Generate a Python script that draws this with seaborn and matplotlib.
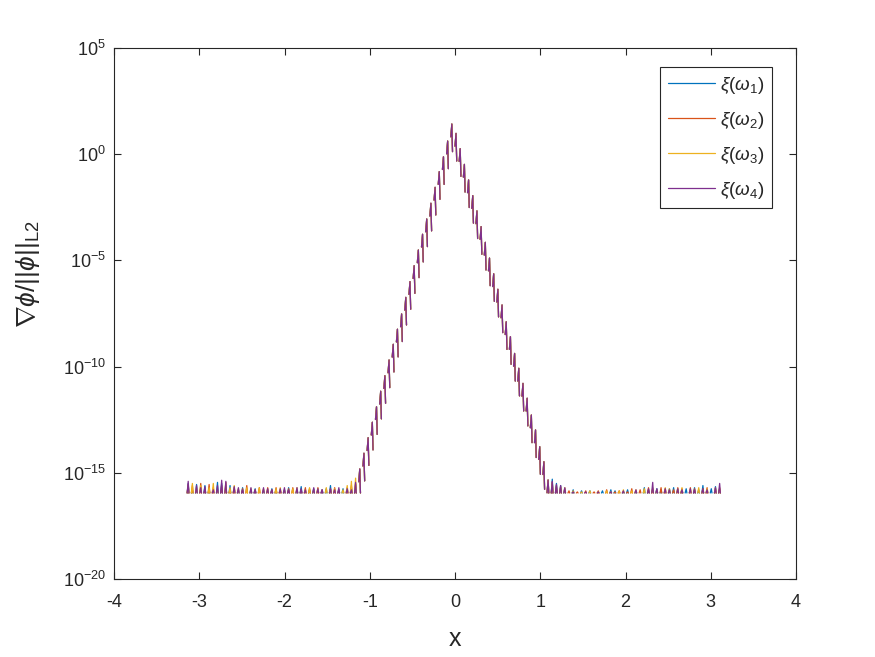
import numpy as np
import pandas as pd
import matplotlib
matplotlib.use("Agg")
import matplotlib.pyplot as plt
from matplotlib.lines import Line2D
from matplotlib.ticker import NullLocator
import seaborn as sns

# ---------------- data (log10 of the plotted quantity) ----------------
series_names = ["xi1", "xi2", "xi3", "xi4"]
series_labels = [r"$\xi(\omega_1)$", r"$\xi(\omega_2)$", r"$\xi(\omega_3)$", r"$\xi(\omega_4)$"]
series_colors = ["#0072BD", "#D95319", "#EDB120", "#7E2F8E"]

n_grid = 128                      # grid on [-pi, pi)
floor_log = -15.95                # machine-precision floor

# central peak: spike tops, going outwards from x = 0
peak_left_tops = [1.42, 0.62, -0.12, -0.82, -1.56, -2.31, -3.05, -3.77, -4.51, -5.25, -6.00, -6.74,
                  -7.52, -8.24, -8.95, -9.69, -10.43, -11.16, -11.89, -12.62, -13.35, -14.08, -14.82]
peak_right_tops = [0.98, 0.26, -0.48, -1.21, -1.95, -2.67, -3.41, -4.15, -4.89, -5.63, -6.36, -7.10,
                   -7.89, -8.59, -9.38, -10.08, -10.79, -11.49, -12.28, -12.98, -13.77, -14.48, -15.34]
peak_first_index = 41

# round-off noise, left part (grid indices 0..40)
noise_left = [
    [-15.5, -15.8, -15.55, -15.95, -15.6, -15.8, -15.95, -15.45, -15.5, -15.75, -15.6, -15.95, -15.8, -15.7,
     -15.95, -15.8, -15.75, -15.95, -15.8, -15.95, -15.75, -15.8, -15.95, -15.8, -15.7, -15.95, -15.8, -15.65,
     -15.95, -15.8, -15.75, -15.95, -15.8, -15.75, -15.6, -15.95, -15.8, -15.75, -15.95, -15.7, -15.55],
    [-15.55, -15.6, -15.95, -15.5, -15.8, -15.55, -15.7, -15.95, -15.6, -15.45, -15.8, -15.7, -15.95, -15.75,
     -15.6, -15.95, -15.8, -15.7, -15.95, -15.7, -15.8, -15.7, -15.8, -15.95, -15.75, -15.7, -15.95, -15.8,
     -15.7, -15.75, -15.95, -15.7, -15.8, -15.95, -15.75, -15.7, -15.8, -15.95, -15.7, -15.6, -15.5],
    [-15.6, -15.5, -15.7, -15.6, -15.95, -15.7, -15.5, -15.8, -15.95, -15.6, -15.7, -15.6, -15.75, -15.95,
     -15.7, -15.75, -15.95, -15.7, -15.75, -15.8, -15.95, -15.75, -15.7, -15.8, -15.95, -15.75, -15.7, -15.95,
     -15.8, -15.7, -15.8, -15.75, -15.95, -15.7, -15.8, -15.75, -15.95, -15.8, -15.6, -15.4, -15.25],
    [-15.4, -15.95, -15.6, -15.7, -15.65, -15.95, -15.8, -15.6, -15.35, -15.4, -15.95, -15.65, -15.7, -15.8,
     -15.95, -15.7, -15.8, -15.95, -15.7, -15.75, -15.8, -15.95, -15.75, -15.7, -15.8, -15.95, -15.7, -15.75,
     -15.8, -15.95, -15.7, -15.75, -15.8, -15.95, -15.75, -15.8, -15.7, -15.95, -15.75, -15.8, -15.45],
]
noise_left_first_index = 0

# round-off noise, right part (grid indices 87..127)
noise_right = [
    [-15.3, -15.5, -15.6, -15.75, -15.95, -15.8, -15.95, -15.85, -15.95, -15.85, -15.95, -15.95, -15.85, -15.95,
     -15.8, -15.85, -15.95, -15.9, -15.8, -15.95, -15.85, -15.95, -15.7, -15.8, -15.95, -15.75, -15.8, -15.95,
     -15.75, -15.7, -15.95, -15.8, -15.75, -15.95, -15.7, -15.8, -15.6, -15.95, -15.75, -15.65, -15.8],
    [-15.45, -15.6, -15.7, -15.95, -15.85, -15.95, -15.9, -15.95, -15.85, -15.95, -15.9, -15.85, -15.95, -15.8,
     -15.95, -15.9, -15.85, -15.95, -15.9, -15.75, -15.95, -15.8, -15.95, -15.7, -15.75, -15.95, -15.7, -15.75,
     -15.95, -15.8, -15.7, -15.75, -15.95, -15.7, -15.75, -15.95, -15.75, -15.7, -15.95, -15.8, -15.7],
    [-15.5, -15.95, -15.65, -15.7, -15.95, -15.85, -15.95, -15.9, -15.95, -15.85, -15.95, -15.9, -15.95, -15.85,
     -15.9, -15.95, -15.85, -15.8, -15.95, -15.85, -15.8, -15.95, -15.75, -15.95, -15.7, -15.8, -15.95, -15.7,
     -15.75, -15.95, -15.75, -15.7, -15.95, -15.8, -15.95, -15.7, -15.8, -15.75, -15.95, -15.7, -15.75],
    [-15.4, -15.55, -15.6, -15.7, -15.95, -15.9, -15.95, -15.95, -15.9, -15.95, -15.95, -15.9, -15.95, -15.95,
     -15.9, -15.95, -15.95, -15.85, -15.95, -15.95, -15.8, -15.95, -15.95, -15.75, -15.45, -15.75, -15.95, -15.75,
     -15.8, -15.95, -15.75, -15.8, -15.95, -15.75, -15.8, -15.95, -15.75, -15.8, -15.95, -15.7, -15.5],
]
noise_right_first_index = 87

x_ticks = [-4, -3, -2, -1, 0, 1, 2, 3, 4]
y_tick_exponents = [-20, -15, -10, -5, 0, 5]

# ---------------- build the line table ----------------
grid_x = -np.pi + 2 * np.pi / n_grid * np.arange(n_grid)
peak_tops = peak_left_tops[::-1] + peak_right_tops

rise_dx, fall_dx = 0.012, 0.020      # shape of one narrow spike (x units)
rise_depth, fall_depth = 0.6, 1.3    # decades below the top

rows = []
unit = 0
for s, name in enumerate(series_names):
    for i, top in enumerate(peak_tops):
        x0 = grid_x[peak_first_index + i]
        pts = ((0.0, max(top - rise_depth, floor_log)), (rise_dx, top),
               (fall_dx, max(top - fall_depth, floor_log)))
        for dx, lv in pts:
            rows.append((name, unit, x0 + dx, 10.0 ** lv))
        unit += 1
    for first, block in ((noise_left_first_index, noise_left[s]), (noise_right_first_index, noise_right[s])):
        for i, top in enumerate(block):
            if top <= floor_log:
                continue
            x0 = grid_x[first + i]
            for dx, lv in ((0.0, floor_log), (rise_dx, top), (fall_dx, floor_log)):
                rows.append((name, unit, x0 + dx, 10.0 ** lv))
            unit += 1

df = pd.DataFrame(rows, columns=["series", "unit", "x", "y"])

# ---------------- styling ----------------
sns.set_theme(style="white")
plt.rcParams["font.family"] = ["Liberation Sans", "DejaVu Sans"]
plt.rcParams["mathtext.fontset"] = "custom"
plt.rcParams["mathtext.rm"] = "Liberation Sans"
plt.rcParams["mathtext.it"] = "Liberation Sans:italic"
plt.rcParams["mathtext.bf"] = "Liberation Sans:bold"
plt.rcParams["axes.unicode_minus"] = False

ink = "#262626"
fig = plt.figure(figsize=(8.75, 6.57), dpi=100)
fig.patch.set_facecolor("white")
ax = fig.add_axes([114 / 875, 1 - 579 / 657, (796 - 114) / 875, (579 - 48) / 657])

sns.lineplot(data=df, x="x", y="y", hue="series", units="unit", estimator=None, sort=False,
             hue_order=series_names, palette=series_colors, linewidth=0.9, legend=False, ax=ax)

ax.set_yscale("log")
ax.set_xlim(-4, 4)
ax.set_ylim(1e-20, 1e5)
ax.set_xticks(x_ticks)
ax.set_xticklabels([str(v) for v in x_ticks])
ax.set_yticks([10.0 ** e for e in y_tick_exponents])
ax.set_yticklabels([r"$\mathdefault{10^{%d}}$" % e for e in y_tick_exponents])
ax.yaxis.set_minor_locator(NullLocator())

for sp in ax.spines.values():
    sp.set_visible(True)
    sp.set_color(ink)
    sp.set_linewidth(0.8)
ax.tick_params(axis="both", which="major", direction="in", length=5, width=0.8, color=ink,
               labelcolor=ink, labelsize=13, top=True, right=True, bottom=True, left=True)
ax.tick_params(axis="x", pad=11)
ax.tick_params(axis="y", pad=6)
ax.grid(False)
ax.set_facecolor("white")

ax.set_xlabel("x", fontsize=18, color=ink, labelpad=11)
ax.set_ylabel(r"$\nabla\phi/||\phi||_{\mathrm{L2}}$", fontsize=19, color=ink)
ax.yaxis.set_label_coords(-0.106, 0.575)

handles = [Line2D([0], [0], color=c, lw=0.9) for c in series_colors]
leg = ax.legend(handles, series_labels, loc="upper right", bbox_to_anchor=(0.965, 0.964),
                borderaxespad=0, fontsize=13.5, handlelength=2.5, handletextpad=0.3,
                labelspacing=0.75, borderpad=0.4, fancybox=False, framealpha=1,
                edgecolor=ink)
leg.get_frame().set_linewidth(0.8)
for t in leg.get_texts():
    t.set_color(ink)

fig.savefig("out.png", dpi=100, facecolor="white")
